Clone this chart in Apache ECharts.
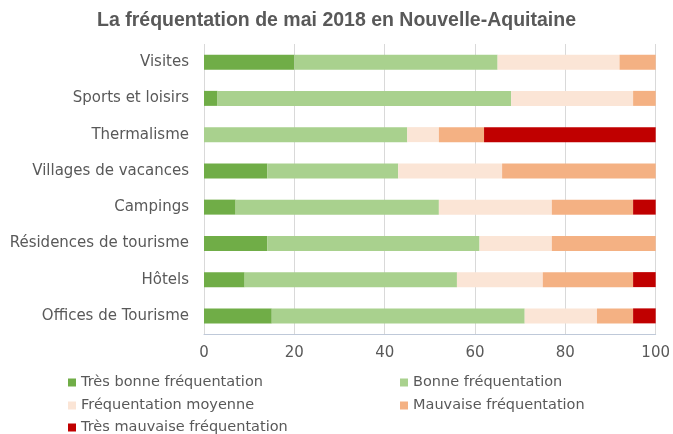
<!DOCTYPE html>
<html>
<head>
<meta charset="utf-8">
<script src="https://cdn.jsdelivr.net/npm/echarts@6/dist/echarts.min.js"></script>
<style>
  html, body { margin: 0; padding: 0; background: #fff; }
  #main { width: 673px; height: 434px; }
</style>
</head>
<body>
<div id="main"></div>
<script>
var categories = ['Visites', 'Sports et loisirs', 'Thermalisme', 'Villages de vacances',
  'Campings', 'Résidences de tourisme', 'Hôtels', 'Offices de Tourisme'];
var seriesNames = ['Très bonne fréquentation', 'Bonne fréquentation', 'Fréquentation moyenne',
  'Mauvaise fréquentation', 'Très mauvaise fréquentation'];
var tresBonne = [20, 3, 0, 14, 7, 14, 9, 15];
var bonne = [45, 65, 45, 29, 45, 47, 47, 56];
var moyenne = [27, 27, 7, 23, 25, 16, 19, 16];
var mauvaise = [8, 5, 10, 34, 18, 23, 20, 8];
var tresMauvaise = [0, 0, 38, 0, 5, 0, 5, 5];
var colors = ['#70AD47', '#A9D18E', '#FBE5D6', '#F4B183', '#C00000'];

var values = [tresBonne, bonne, moyenne, mauvaise, tresMauvaise];
var textColor = '#595959';

// une légende par entrée pour garder les deux colonnes
var legendPos = [[68, 375], [400, 375], [68, 398], [400, 398], [68, 420]];
var legends = seriesNames.map(function (name, i) {
  return {
    data: [name],
    left: legendPos[i][0],
    top: legendPos[i][1],
    padding: 0,
    itemWidth: 8,
    itemHeight: 8,
    icon: 'rect',
    textStyle: { color: textColor, fontSize: 14.5, fontFamily: 'DejaVu Sans' }
  };
});

var option = {
  animation: false,
  color: colors,
  title: {
    text: 'La fréquentation de mai 2018 en Nouvelle-Aquitaine',
    left: 'center',
    top: 6,
    textStyle: { color: textColor, fontSize: 19.5, fontWeight: 'bold', fontFamily: 'Liberation Sans' }
  },
  legend: legends,
  grid: { left: 204, right: 16, top: 44, bottom: 100 },
  xAxis: {
    type: 'value',
    min: 0,
    max: 100,
    interval: 20,
    axisLine: { show: true, lineStyle: { color: '#BFC9D9' } },
    axisTick: { show: false },
    axisLabel: { color: textColor, fontSize: 15, fontFamily: 'DejaVu Sans', margin: 12 },
    splitLine: { show: true, lineStyle: { color: '#D9D9D9' } }
  },
  yAxis: {
    type: 'category',
    inverse: true,
    data: categories,
    axisLine: { show: false },
    axisTick: { show: false },
    axisLabel: { color: textColor, fontSize: 15, fontFamily: 'DejaVu Sans', margin: 15 }
  },
  series: seriesNames.map(function (name, i) {
    return {
      name: name,
      type: 'bar',
      stack: 'total',
      barWidth: 15,
      data: values[i],
      itemStyle: { color: colors[i] }
    };
  })
};

var myChart = echarts.init(document.getElementById('main'));
myChart.setOption(option);
</script>
</body>
</html>
